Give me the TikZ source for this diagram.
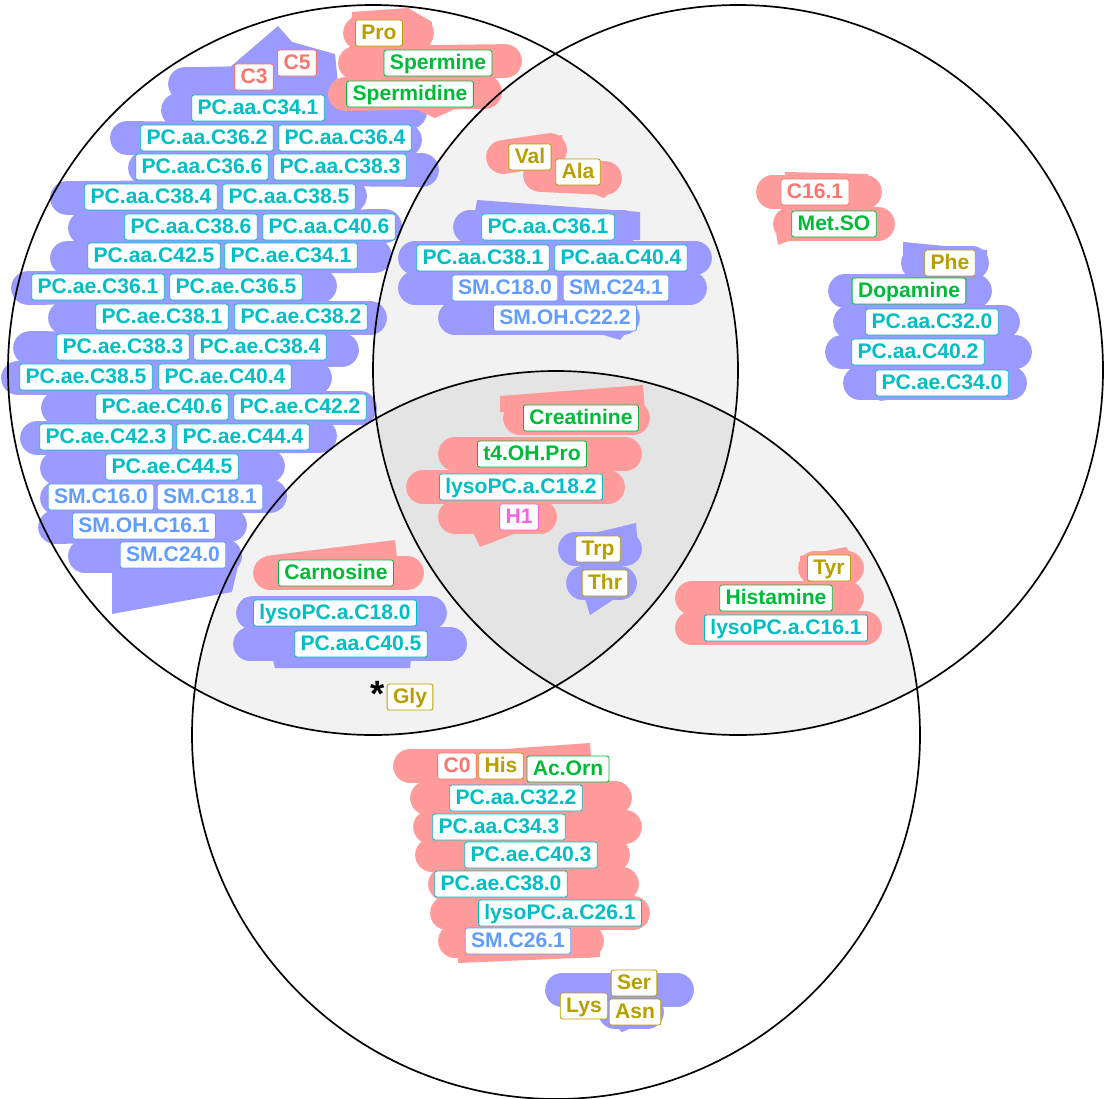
\documentclass[tikz,border=0pt]{standalone}
\usepackage{fontspec}
\setmainfont{Liberation Sans}
\usepackage{tikz}
\usetikzlibrary{positioning}
\definecolor{acylred}{HTML}{F8766D}
\definecolor{aminoolive}{HTML}{B79F00}
\definecolor{aminegreen}{HTML}{00BA38}
\definecolor{gplcyan}{HTML}{00BFC4}
\definecolor{sphingoblue}{HTML}{619CFF}
\definecolor{hexosepink}{HTML}{F564E3}
\definecolor{blobblue}{RGB}{155,155,255}
\definecolor{blobred}{RGB}{255,155,155}
\definecolor{pairgray}{RGB}{242,242,242}
\definecolor{triplegray}{RGB}{228,228,228}
\tikzstyle{metab} = [
    rectangle, rounded corners=1.5pt, fill=white, line width=0.6pt,
    inner xsep=4.2pt, inner ysep=0pt, minimum height=18.4pt,
    text height=10.7pt, text depth=1pt, font=\fontsize{15}{18}\selectfont\bfseries]
\tikzstyle{acyl} = [metab, draw=acylred, text=acylred]
\tikzstyle{amino} = [metab, draw=aminoolive, text=aminoolive]
\tikzstyle{amine} = [metab, draw=aminegreen, text=aminegreen]
\tikzstyle{gpl} = [metab, draw=gplcyan, text=gplcyan]
\tikzstyle{sphingo} = [metab, draw=sphingoblue, text=sphingoblue]
\tikzstyle{hexose} = [metab, draw=hexosepink, text=hexosepink]
\tikzstyle{blueblob} = [draw=blobblue, line width=24pt, line cap=round]
\tikzstyle{redblob} = [draw=blobred, line width=24pt, line cap=round]
\tikzstyle{setline} = [draw=black, line width=1.2pt]
\begin{document}
\begin{tikzpicture}[x=0.025cm, y=-0.025cm]
\useasboundingbox (0,0) rectangle (1110,1098);
\coordinate (left-set) at (373,370);
\coordinate (right-set) at (738,370);
\coordinate (bottom-set) at (556,735);

% overlaps
\begin{scope}
\clip (left-set) circle [radius=365];
\fill[pairgray] (right-set) circle [radius=365];
\fill[pairgray] (bottom-set) circle [radius=364];
\end{scope}
\begin{scope}
\clip (right-set) circle [radius=365];
\fill[pairgray] (bottom-set) circle [radius=364];
\end{scope}
\begin{scope}
\clip (left-set) circle [radius=365];
\clip (right-set) circle [radius=365];
\fill[triplegray] (bottom-set) circle [radius=364];
\end{scope}

% scribbles behind the groups
\fill[blobblue] (222,74) -- (278,26) -- (292,42) -- (335,54) -- (338,84) -- (222,92) -- cycle;
\draw[blueblob] (185,84) -- (320,82);
\draw[blueblob] (178,110) -- (410,112);
\draw[blueblob] (127,138) -- (405,140);
\draw[blueblob] (145,168) -- (422,170);
\draw[blueblob] (67,198) -- (350,196);
\draw[blueblob] (85,228) -- (385,226);
\draw[blueblob] (67,258) -- (375,256);
\draw[blueblob] (28,288) -- (320,286);
\draw[blueblob] (65,318) -- (370,318);
\draw[blueblob] (30,348) -- (342,350);
\draw[blueblob] (18,378) -- (315,378);
\draw[blueblob] (58,408) -- (360,408);
\draw[blueblob] (37,438) -- (320,436);
\draw[blueblob] (57,468) -- (268,466);
\draw[blueblob] (57,498) -- (270,496);
\draw[blueblob] (55,527) -- (230,525);
\draw[blueblob] (85,556) -- (225,556);
\fill[blobblue] (112,566) -- (238,566) -- (232,592) -- (112,614) -- cycle;

\fill[blobred] (352,12) -- (408,8) -- (432,22) -- (430,48) -- (350,48) -- cycle;
\draw[redblob] (360,33) -- (417,33);
\draw[redblob] (355,63) -- (505,61);
\draw[redblob] (345,94) -- (485,92);
\fill[blobred] (395,100) -- (475,100) -- (435,118) -- cycle;

\fill[blobred] (520,145) -- (562,135) -- (565,162) -- cycle;
\draw[redblob] (503,157) -- (550,150);
\draw[redblob] (540,175) -- (605,178);
\fill[blobred] (560,180) -- (618,184) -- (604,198) -- cycle;

\fill[blobblue] (477,200) -- (640,212) -- (640,240) -- (470,240) -- cycle;
\draw[blueblob] (470,227) -- (623,227);
\draw[blueblob] (415,258) -- (695,258);
\draw[blueblob] (415,288) -- (690,288);
\draw[blueblob] (455,318) -- (623,318);
\fill[blobblue] (560,322) -- (632,325) -- (620,340) -- cycle;

\fill[blobred] (785,172) -- (868,174) -- (868,192) -- (785,192) -- cycle;
\draw[redblob] (773,192) -- (865,192);
\draw[redblob] (790,224) -- (878,224);
\fill[blobred] (775,226) -- (830,226) -- (778,245) -- cycle;

\fill[blobblue] (903,242) -- (987,250) -- (987,270) -- (903,270) -- cycle;
\draw[blueblob] (918,263) -- (972,263);
\draw[blueblob] (845,291) -- (975,291);
\draw[blueblob] (850,322) -- (1003,322);
\draw[blueblob] (842,352) -- (1015,352);
\draw[blueblob] (860,383) -- (1010,383);
\fill[blobblue] (870,390) -- (960,390) -- (880,401) -- cycle;

\fill[blobred] (500,396) -- (643,385) -- (645,412) -- (500,412) -- cycle;
\draw[redblob] (520,418) -- (633,418);
\draw[redblob] (455,454) -- (625,454);
\draw[redblob] (423,487) -- (608,487);
\draw[redblob] (455,517) -- (540,517);
\fill[blobred] (468,522) -- (545,522) -- (480,547) -- cycle;

\fill[blobblue] (598,532) -- (636,523) -- (638,548) -- cycle;
\draw[blueblob] (575,549) -- (625,549);
\draw[blueblob] (583,583) -- (620,583);
\fill[blobblue] (583,592) -- (625,592) -- (590,615) -- cycle;

\fill[blobred] (266,556) -- (395,540) -- (398,566) -- (266,566) -- cycle;
\draw[redblob] (270,573) -- (407,573);

\fill[blobblue] (243,598) -- (410,600) -- (410,620) -- (243,620) -- cycle;
\draw[blueblob] (253,613) -- (430,613);
\draw[blueblob] (250,644) -- (450,644);
\fill[blobblue] (270,650) -- (412,650) -- (410,668) -- (275,668) -- cycle;

\fill[blobred] (800,556) -- (846,547) -- (860,566) -- (800,566) -- cycle;
\draw[redblob] (815,568) -- (847,568);
\draw[redblob] (692,598) -- (847,598);
\draw[redblob] (692,628) -- (865,628);
\fill[blobred] (800,630) -- (872,630) -- (860,643) -- cycle;

\fill[blobred] (420,755) -- (590,743) -- (592,770) -- (420,770) -- cycle;
\draw[redblob] (410,766) -- (577,766);
\draw[redblob] (427,798) -- (615,798);
\draw[redblob] (430,827) -- (625,827);
\draw[redblob] (432,855) -- (613,855);
\draw[redblob] (445,884) -- (622,884);
\draw[redblob] (447,913) -- (633,913);
\draw[redblob] (455,941) -- (587,941);
\fill[blobred] (458,948) -- (600,948) -- (600,957) -- (458,963) -- cycle;

\draw[blueblob] (562,990) -- (677,990);
\draw[blueblob] (615,1012) -- (647,1012);
\fill[blobblue] (605,1015) -- (660,1015) -- (622,1032) -- cycle;

% circles
\draw[setline] (left-set) circle [radius=365];
\draw[setline] (right-set) circle [radius=365];
\draw[setline] (bottom-set) circle [radius=364];

% left set
\node (c5) [acyl] at (297,63) {C5};
\node (c3) [acyl] at (254,77) {C3};
\node (pc-aa-c34-1) [gpl] at (258,108) {PC.aa.C34.1};
\node (pc-aa-c36-2) [gpl] at (207,138) {PC.aa.C36.2};
\node (pc-aa-c36-4) [gpl] at (345,138) {PC.aa.C36.4};
\node (pc-aa-c36-6) [gpl] at (202,167) {PC.aa.C36.6};
\node (pc-aa-c38-3) [gpl] at (340,167) {PC.aa.C38.3};
\node (pc-aa-c38-4) [gpl] at (151,197) {PC.aa.C38.4};
\node (pc-aa-c38-5) [gpl] at (289,197) {PC.aa.C38.5};
\node (pc-aa-c38-6) [gpl] at (191,227) {PC.aa.C38.6};
\node (pc-aa-c40-6) [gpl] at (329,227) {PC.aa.C40.6};
\node (pc-aa-c42-5) [gpl] at (154,256) {PC.aa.C42.5};
\node (pc-ae-c34-1) [gpl] at (291,256) {PC.ae.C34.1};
\node (pc-ae-c36-1) [gpl] at (98,287) {PC.ae.C36.1};
\node (pc-ae-c36-5) [gpl] at (236,287) {PC.ae.C36.5};
\node (pc-ae-c38-1) [gpl] at (162,317) {PC.ae.C38.1};
\node (pc-ae-c38-2) [gpl] at (301,317) {PC.ae.C38.2};
\node (pc-ae-c38-3) [gpl] at (123,347) {PC.ae.C38.3};
\node (pc-ae-c38-4) [gpl] at (260,347) {PC.ae.C38.4};
\node (pc-ae-c38-5) [gpl] at (86,377) {PC.ae.C38.5};
\node (pc-ae-c40-4) [gpl] at (225,377) {PC.ae.C40.4};
\node (pc-ae-c40-6) [gpl] at (162,407) {PC.ae.C40.6};
\node (pc-ae-c42-2) [gpl] at (300,407) {PC.ae.C42.2};
\node (pc-ae-c42-3) [gpl] at (106,437) {PC.ae.C42.3};
\node (pc-ae-c44-4) [gpl] at (243,437) {PC.ae.C44.4};
\node (pc-ae-c44-5) [gpl] at (172,467) {PC.ae.C44.5};
\node (sm-c16-0) [sphingo] at (101,497) {SM.C16.0};
\node (sm-c18-1) [sphingo] at (210,497) {SM.C18.1};
\node (sm-oh-c16-1) [sphingo] at (144,526) {SM.OH.C16.1};
\node (sm-c24-0) [sphingo] at (173,555) {SM.C24.0};
\node (pro) [amino] at (379,33) {Pro};
\node (spermine) [amine] at (438,63) {Spermine};
\node (spermidine) [amine] at (410,94) {Spermidine};

% left and right
\node (val) [amino] at (530,157) {Val};
\node (ala) [amino] at (578,172) {Ala};
\node (pc-aa-c36-1) [gpl] at (548,227) {PC.aa.C36.1};
\node (pc-aa-c38-1) [gpl] at (483,258) {PC.aa.C38.1};
\node (pc-aa-c40-4) [gpl] at (621,258) {PC.aa.C40.4};
\node (sm-c18-0) [sphingo] at (505,288) {SM.C18.0};
\node (sm-c24-1) [sphingo] at (616,288) {SM.C24.1};
\node (sm-oh-c22-2) [sphingo] at (565,318) {SM.OH.C22.2};

% right set
\node (c16-1) [acyl] at (815,192) {C16.1};
\node (met-so) [amine] at (834,224) {Met.SO};
\node (phe) [amino] at (950,263) {Phe};
\node (dopamine) [amine] at (909,291) {Dopamine};
\node (pc-aa-c32-0) [gpl] at (932,322) {PC.aa.C32.0};
\node (pc-aa-c40-2) [gpl] at (918,352) {PC.aa.C40.2};
\node (pc-ae-c34-0) [gpl] at (942,383) {PC.ae.C34.0};

% all three
\node (creatinine) [amine] at (581,418) {Creatinine};
\node (t4-oh-pro) [amine] at (532,454) {t4.OH.Pro};
\node (lysopc-a-c18-2) [gpl] at (521,487) {lysoPC.a.C18.2};
\node (h1) [hexose] at (519,517) {H1};
\node (trp) [amino] at (598,549) {Trp};
\node (thr) [amino] at (605,583) {Thr};

% left and bottom
\node (carnosine) [amine] at (336,573) {Carnosine};
\node (lysopc-a-c18-0) [gpl] at (335,613) {lysoPC.a.C18.0};
\node (pc-aa-c40-5) [gpl] at (361,644) {PC.aa.C40.5};
\node (gly) [amino] at (410,697) {Gly};
\node (gly-star) [font=\fontsize{26}{26}\selectfont\bfseries, inner sep=0pt] at (378,694) {*};

% right and bottom
\node (tyr) [amino] at (829,568) {Tyr};
\node (histamine) [amine] at (776,598) {Histamine};
\node (lysopc-a-c16-1) [gpl] at (786,628) {lysoPC.a.C16.1};

% bottom set
\node (c0) [acyl] at (457,766) {C0};
\node (his) [amino] at (501,766) {His};
\node (ac-orn) [amine] at (568,769) {Ac.Orn};
\node (pc-aa-c32-2) [gpl] at (516,798) {PC.aa.C32.2};
\node (pc-aa-c34-3) [gpl] at (499,827) {PC.aa.C34.3};
\node (pc-ae-c40-3) [gpl] at (531,855) {PC.ae.C40.3};
\node (pc-ae-c38-0) [gpl] at (501,884) {PC.ae.C38.0};
\node (lysopc-a-c26-1) [gpl] at (560,913) {lysoPC.a.C26.1};
\node (sm-c26-1) [sphingo] at (518,941) {SM.C26.1};
\node (ser) [amino] at (634,983) {Ser};
\node (lys) [amino] at (584,1006) {Lys};
\node (asn) [amino] at (635,1012) {Asn};
\end{tikzpicture}
\end{document}
